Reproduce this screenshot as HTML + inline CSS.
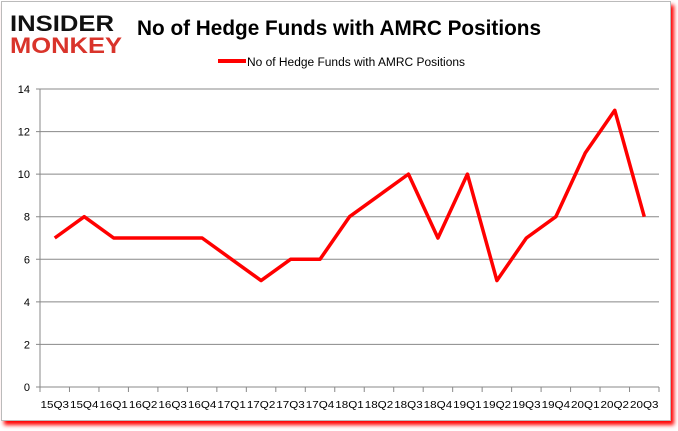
<!DOCTYPE html>
<html><head><meta charset="utf-8"><style>
body{margin:0;background:#fff;width:678px;height:431px;overflow:hidden;font-family:"Liberation Sans",sans-serif}
#frame{position:absolute;left:1px;top:1px;width:668px;height:418px;border:1px solid #bbb;background:#fff;box-shadow:3px 4px 4px #f00}
</style></head><body>
<div id="frame"></div>
<svg width="678" height="431" style="position:absolute;left:0;top:0">
<g font-family="Liberation Sans" font-weight="bold">
<text x="10" y="31" font-size="22" fill="#111" textLength="104" lengthAdjust="spacingAndGlyphs">INSIDER</text>
<text x="10" y="53" font-size="22" fill="#d9342b" textLength="112" lengthAdjust="spacingAndGlyphs">MONKEY</text>
</g>
<text x="137" y="35" font-size="21" font-weight="bold" fill="#000" textLength="404" lengthAdjust="spacingAndGlyphs">No of Hedge Funds with AMRC Positions</text>
<line x1="218" y1="61" x2="246" y2="61" stroke="#f00" stroke-width="4"/>
<text x="247" y="66" font-size="11.5" fill="#000" textLength="218" lengthAdjust="spacingAndGlyphs">No of Hedge Funds with AMRC Positions</text>
<g id="grid"></g><g id="xl"></g>
<polyline id="line" fill="none" stroke="#f00" stroke-width="3.5" stroke-linejoin="round"/>
</svg>
<script>
const categories=["15Q3","15Q4","16Q1","16Q2","16Q3","16Q4","17Q1","17Q2","17Q3","17Q4","18Q1","18Q2","18Q3","18Q4","19Q1","19Q2","19Q3","19Q4","20Q1","20Q2","20Q3"];
const values=[7,8,7,7,7,7,6,5,6,6,8,9,10,7,10,5,7,8,11,13,8];
const yTicks=[0,2,4,6,8,10,12,14];
const NS="http://www.w3.org/2000/svg";
const X0=40,X1=659,Y0=387,Y1=89,YMAX=14;
const bw=(X1-X0)/categories.length;
const xs=i=>X0+bw*(i+0.5);
const ys=v=>Y0-(Y0-Y1)*v/YMAX;
const g=document.getElementById('grid'),xl=document.getElementById('xl');
function mk(t,a,p){const e=document.createElementNS(NS,t);for(const k in a)e.setAttribute(k,a[k]);p.appendChild(e);return e;}
yTicks.forEach(v=>{
 const l=mk('line',{x1:X0-4,x2:X1,y1:ys(v),y2:ys(v),stroke:'#888','stroke-width':1},g);
 
 
 const t=mk('text',{x:X0-10,y:ys(v)+4,'font-size':11,'text-anchor':'end',fill:'#000'},g);
 t.textContent=v;
 
 
});
const ax=mk('line',{x1:X0,x2:X0,y1:Y1,y2:Y0+5,stroke:'#888'},g);


for(let i=0;i<=categories.length;i++){
 const tk=mk('line',{x1:X0+bw*i,x2:X0+bw*i,y1:Y0,y2:Y0+5,stroke:'#888'},g);
 
 
}
categories.forEach((c,i)=>{
 const t=mk('text',{x:xs(i),y:408,'font-size':10.5,'text-anchor':'middle',fill:'#000',textLength:bw-1,lengthAdjust:'spacingAndGlyphs'},xl);
 t.textContent=c;
 
 
});
document.getElementById('line').setAttribute('points',values.map((v,i)=>xs(i)+','+ys(v)).join(' '));
</script>
</body></html>
